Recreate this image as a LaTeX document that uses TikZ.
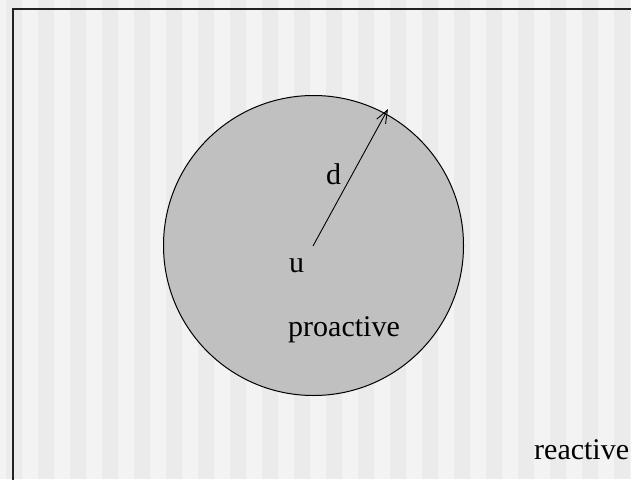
\documentclass[tikz,border=0pt]{standalone}
\usepackage{fontspec}
\setmainfont{Liberation Serif}
\usepackage{xcolor}
\usepackage{tikz}
\usetikzlibrary{arrows.meta,positioning,calc}
\definecolor{cStripeL}{HTML}{F3F3F3}
\definecolor{cStripeD}{HTML}{EBEBEB}
\definecolor{cZone}{HTML}{C0C0C0}
\definecolor{cFrame}{HTML}{222222}
\tikzset{
  zone/.style  = {circle, draw=black, fill=cZone, line width=1pt, minimum size=300pt,
                  inner sep=0pt},
  lbl/.style   = {anchor=base west, inner sep=0pt, font=\fontsize{30}{36}\selectfont},
  rad/.style   = {-{Straight Barb[length=13pt, width=10pt]}, draw=black, line width=0.9pt},
  frame/.style = {draw=cFrame, line width=2pt},
}

\begin{document}
\begin{tikzpicture}[x=1pt, y=-1pt]
  \useasboundingbox (0,0) rectangle (631,479);
  \clip (0,0) rectangle (631,479);
  % striped background
  \fill[cStripeL] (0,0) rectangle (631,479);
  \foreach \x in {6,38,...,630}
    \fill[cStripeD] (\x,0) rectangle ++(16,479);
  \draw[frame] (13,9) rectangle (700,560);

  \node[zone] (zone) at (313.5,245.5) {};
  \coordinate (u) at (313,246);
  \coordinate (tip) at (388,109);
  \draw[rad] (u) -- (tip);

  \node[lbl] (dlab) at (326,184) {d};
  \node[lbl] (ulab) at (289,272) {u};
  \node[lbl] (pro) at (288,336) {proactive};
  \node[lbl] (rea) at (534,459) {reactive};
\end{tikzpicture}
\end{document}
